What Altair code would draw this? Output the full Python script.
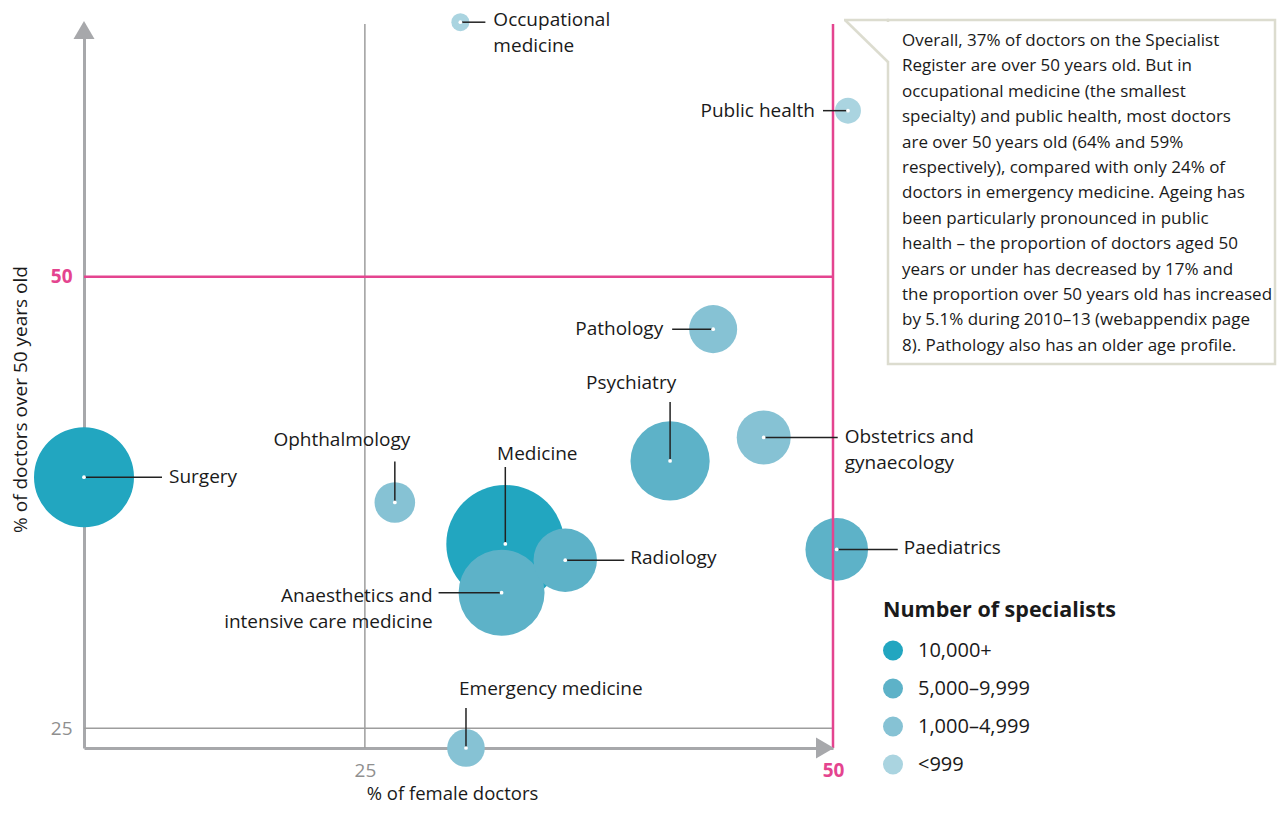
import altair as alt
import pandas as pd

# ---------------- data ----------------
specialty = ["Occupational medicine", "Public health", "Pathology", "Psychiatry",
             "Obstetrics and gynaecology", "Surgery", "Ophthalmology", "Medicine",
             "Radiology", "Anaesthetics and intensive care medicine", "Paediatrics",
             "Emergency medicine"]
pct_female = [30.1, 50.8, 43.6, 41.3, 46.3, 10.0, 26.6, 32.5, 35.7, 32.3, 50.2, 30.4]
pct_over50 = [64.1, 59.2, 47.1, 39.8, 41.1, 38.9, 37.5, 35.2, 34.3, 32.5, 34.9, 23.9]
specialists = [420, 870, 2980, 8110, 3770, 12930, 2130, 18000, 5200, 9560, 5070, 1830]
size_band = ["<999", "<999", "1,000–4,999", "5,000–9,999", "1,000–4,999", "10,000+",
             "1,000–4,999", "10,000+", "5,000–9,999", "5,000–9,999", "5,000–9,999",
             "1,000–4,999"]
band_order = ["10,000+", "5,000–9,999", "1,000–4,999", "<999"]
band_colors = ["#22a6c0", "#5db2c8", "#86c2d4", "#aad4e0"]

label_lines = [["Occupational", "medicine"], ["Public health"], ["Pathology"], ["Psychiatry"],
               ["Obstetrics and", "gynaecology"], ["Surgery"], ["Ophthalmology"], ["Medicine"],
               ["Radiology"], ["Anaesthetics and", "intensive care medicine"], ["Paediatrics"],
               ["Emergency medicine"]]

x_ticks = [25, 50]
y_ticks = [25, 50]

note_lines = ["Overall, 37% of doctors on the Specialist",
              "Register are over 50 years old. But in",
              "occupational medicine (the smallest",
              "specialty) and public health, most doctors",
              "are over 50 years old (64% and 59%",
              "respectively), compared with only 24% of",
              "doctors in emergency medicine. Ageing has",
              "been particularly pronounced in public",
              "health – the proportion of doctors aged 50",
              "years or under has decreased by 17% and",
              "the proportion over 50 years old has increased",
              "by 5.1% during 2010–13 (webappendix page",
              "8). Pathology also has an older age profile."]

# ---------------- layout (pixels) ----------------
leader_dx = [25, -25, -41, 0, 74, 78, 0, 0, 59, -63, 61, 0]
leader_dy = [0, 0, 0, -59, 0, 0, -41, -77, 0, 0, 0, -40]
label_dx = [33, -33, -50, -39, 81, 85, -53, 32, 65, -69, 67, -7]
label_dy = [-2, 0, 0, -78, 0, 0, -62, -90, -2, 3, -1, -59]
label_align = ["left", "right", "right", "center", "left", "left", "center", "center",
               "left", "right", "left", "left"]
LINE_H = 26

W, H = 749, 724
X_DOM = [10, 50]
Y_DOM = [23.9, 64]
PX_X = W / (X_DOM[1] - X_DOM[0])
PX_Y = H / (Y_DOM[1] - Y_DOM[0])

FONT = "Open Sans"
GREY_AXIS = "#a7a8ab"
GREY_LINE = "#9d9d9d"
PINK = "#e4448f"
INK = "#1a1a1a"
BOX = "#dcdccf"

xs = alt.Scale(domain=X_DOM, nice=False, zero=False)
ys = alt.Scale(domain=Y_DOM, nice=False, zero=False)

df = pd.DataFrame({"specialty": specialty, "female": pct_female, "over50": pct_over50,
                   "n": specialists, "band": size_band})

lead = pd.DataFrame({
    "x": pct_female, "y": pct_over50,
    "x2": [pct_female[i] + leader_dx[i] / PX_X for i in range(len(specialty))],
    "y2": [pct_over50[i] - leader_dy[i] / PX_Y for i in range(len(specialty))],
})

lab_rows = []
for i in range(len(specialty)):
    for j, line in enumerate(label_lines[i]):
        lab_rows.append({"label": line,
                         "lx": pct_female[i] + label_dx[i] / PX_X,
                         "ly": pct_over50[i] - (label_dy[i] + j * LINE_H) / PX_Y,
                         "align": label_align[i]})
labs = pd.DataFrame(lab_rows)
one = pd.DataFrame({"k": [0]})

cond_color = {"condition": {"test": "datum.value == 50", "value": PINK}, "value": "#8f8f8f"}
cond_weight = {"condition": {"test": "datum.value == 50", "value": "bold"}, "value": "normal"}

x_axis = alt.Axis(values=x_ticks, ticks=False, tickSize=0, grid=False,
                  domainColor=GREY_AXIS, domainWidth=3, labelFlush=False,
                  labelFont=FONT, labelFontSize=19, labelColor=cond_color,
                  labelFontWeight=cond_weight, labelPadding=13,
                  title="% of female doctors", titleFont=FONT, titleFontSize=18.5,
                  titleFontWeight="normal", titleColor=INK, titleX=368, titleY=45,
                  titleBaseline="middle", titleAlign="center", zindex=0)
y_axis = alt.Axis(values=y_ticks, ticks=False, tickSize=0, grid=False,
                  domainColor=GREY_AXIS, domainWidth=3, labelFlush=False,
                  labelFont=FONT, labelFontSize=19, labelColor=cond_color,
                  labelFontWeight=cond_weight, labelPadding=12,
                  title="% of doctors over 50 years old", titleFont=FONT, titleFontSize=19,
                  titleFontWeight="normal", titleColor=INK, titleX=-64, titleY=375,
                  titleBaseline="middle", titleAlign="center", zindex=0)


def X(field=None, datum=None):
    if datum is not None:
        return alt.X(datum=datum, scale=xs, axis=x_axis)
    return alt.X(field, type="quantitative", scale=xs, axis=x_axis)


def Y(field=None, datum=None):
    if datum is not None:
        return alt.Y(datum=datum, scale=ys, axis=y_axis)
    return alt.Y(field, type="quantitative", scale=ys, axis=y_axis)


# reference lines
grey_v = alt.Chart(one).mark_rule(color=GREY_LINE, strokeWidth=1.5).encode(x=X(datum=25))
grey_h = alt.Chart(one).mark_rule(color=GREY_LINE, strokeWidth=1.5).encode(y=Y(datum=25))
pink_v = alt.Chart(one).mark_rule(color=PINK, strokeWidth=2.5).encode(x=X(datum=50))
pink_h = alt.Chart(one).mark_rule(color=PINK, strokeWidth=2.5).encode(y=Y(datum=50))

# axis arrow heads
arrow_up = alt.Chart(one).mark_point(shape="M-1,0.857L0,-0.857L1,0.857Z", filled=True,
                                     color=GREY_AXIS, opacity=1, size=441).encode(
    x=alt.value(0), y=alt.value(6))
arrow_right = alt.Chart(one).mark_point(shape="M-0.857,-1L0.857,0L-0.857,1Z", filled=True,
                                        color=GREY_AXIS, opacity=1, size=441).encode(
    x=alt.value(741), y=alt.value(724))

bubbles = alt.Chart(df).mark_circle(opacity=1, strokeWidth=0).encode(
    x=X("female"),
    y=Y("over50"),
    size=alt.Size("n:Q", scale=alt.Scale(domain=[0, 18000], range=[0, 13924]), legend=None),
    color=alt.Color("band:N", scale=alt.Scale(domain=band_order, range=band_colors),
                    legend=alt.Legend(title="Number of specialists", orient="none",
                                      legendX=799, legendY=576, padding=0,
                                      titleFont=FONT, titleFontSize=21.5, titleFontWeight="bold",
                                      titleColor=INK, titlePadding=19, titleLimit=400,
                                      labelFont=FONT, labelFontSize=20, labelColor=INK,
                                      labelOffset=15, symbolSize=400, symbolType="circle",
                                      symbolStrokeWidth=0, symbolOpacity=1, rowPadding=18)),
    order=alt.Order("n:Q", sort="descending"),
)

leaders = alt.Chart(lead).mark_rule(color="#222222", strokeWidth=1.5).encode(
    x=X("x"), y=Y("y"), x2="x2:Q", y2="y2:Q")

dots = alt.Chart(df).mark_circle(color="white", opacity=1, size=14).encode(
    x=X("female"), y=Y("over50"))


def label_layer(al):
    return alt.Chart(labs[labs["align"] == al]).mark_text(
        align=al, baseline="middle", font=FONT, fontSize=19, color=INK).encode(
        x=X("lx"), y=Y("ly"), text="label:N")


# annotation box
box = alt.Chart(one).mark_rect(fill="white", stroke=BOX, strokeWidth=2.5).encode(
    x=alt.value(804), x2=alt.value(1191), y=alt.value(-4), y2=alt.value(340))
box_gap = alt.Chart(one).mark_rule(color="white", strokeWidth=4).encode(
    x=alt.value(804), x2=alt.value(804), y=alt.value(-2), y2=alt.value(37))
box_top = alt.Chart(one).mark_rule(color=BOX, strokeWidth=2.5).encode(
    x=alt.value(760), x2=alt.value(805), y=alt.value(-4), y2=alt.value(-4))
box_diag = alt.Chart(one).mark_rule(color=BOX, strokeWidth=2.5).encode(
    x=alt.value(761), x2=alt.value(804), y=alt.value(-4), y2=alt.value(38))
note = alt.Chart(one).mark_text(text=note_lines, align="left", baseline="top", font=FONT,
                                fontSize=17, lineHeight=25.4, color=INK).encode(
    x=alt.value(818), y=alt.value(9))

chart = alt.layer(
    bubbles, grey_v, grey_h, pink_v, pink_h, arrow_up, arrow_right,
    leaders, dots, label_layer("left"), label_layer("right"), label_layer("center"),
    box, box_gap, box_top, box_diag, note,
).properties(
    width=W, height=H,
    autosize=alt.AutoSizeParams(type="none"),
    padding={"left": 76, "top": 16, "right": 444, "bottom": 54},
).configure_view(stroke=None)

chart.save("out.html", embed_options={"renderer": "svg", "actions": False})
